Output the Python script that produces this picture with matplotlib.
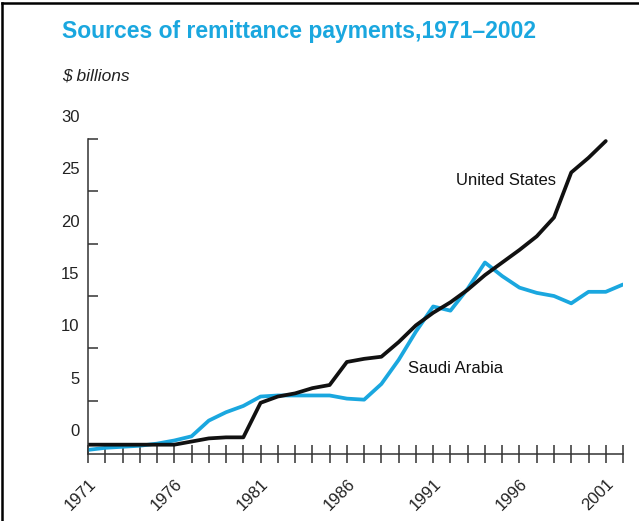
import numpy as np
import matplotlib.pyplot as plt
from matplotlib.lines import Line2D
from matplotlib.transforms import ScaledTranslation

plt.rcParams['font.family'] = ['Liberation Sans', 'DejaVu Sans']

years = np.arange(1971, 2003)

# $ billions
us = [-1.4, -1.4, -1.4, -1.4, -1.4, -1.4, -1.1, -0.8, -0.7, -0.7,
      2.6, 3.2, 3.5, 4.0, 4.3, 6.5, 6.8, 7.0, 8.4, 10.0,
      11.2, 12.2, 13.4, 14.8, 16.0, 17.2, 18.5, 20.3, 24.6, 26.0,
      27.6]
saudi = [-1.9, -1.7, -1.6, -1.5, -1.3, -1.0, -0.6, 0.9, 1.7, 2.3,
         3.2, 3.3, 3.3, 3.3, 3.3, 3.0, 2.9, 4.4, 6.7, 9.4,
         11.8, 11.4, 13.5, 16.0, 14.7, 13.6, 13.1, 12.8, 12.1, 13.2,
         13.2, 13.9]

label_years = [1971, 1976, 1981, 1986, 1991, 1996, 2001]
y_labels = [0, 5, 10, 15, 20, 25, 30]

cyan = '#1aa7df'

fig = plt.figure(figsize=(6.39, 5.21), dpi=100)
ax = fig.add_axes([0.1377, 0.1286, 0.975 - 0.1377, 0.7775 - 0.1286])

ax.plot(years, saudi, color=cyan, lw=2.7, solid_joinstyle='round', solid_capstyle='round')
ax.plot(years[:len(us)], us, color='#111111', lw=2.7, solid_joinstyle='round', solid_capstyle='round')

ax.set_xlim(1971, 2002)
ax.set_ylim(-2.29, 30)

for s in ['top', 'right']:
    ax.spines[s].set_visible(False)
for s in ['left', 'bottom']:
    ax.spines[s].set_color('#333333')
    ax.spines[s].set_linewidth(1.1)
ax.spines['left'].set_bounds(-2.29, 27.8)

# y axis: labels and tick marks sit apart in the original
ax.set_yticks(y_labels)
ax.set_yticklabels([str(v) for v in y_labels])
ax.set_yticks([2.8, 7.8, 12.8, 17.8, 22.8, 27.8], minor=True)
ax.tick_params(axis='y', which='major', length=0, pad=6, labelsize=12, labelcolor='#222222')
ax.tick_params(axis='y', which='minor', direction='in', length=7.5, width=1.1, color='#333333')

# x axis
ax.set_xticks(label_years)
ax.set_xticklabels([str(y) for y in label_years], rotation=45, ha='right')
ax.set_xticks(years, minor=True)
ax.tick_params(axis='x', which='both', direction='inout', length=12.5, width=1.1,
               color='#333333', labelsize=12, labelcolor='#222222', pad=10)
off = ScaledTranslation(11 / 100, 0, fig.dpi_scale_trans)
for lbl in ax.get_xticklabels():
    lbl.set_transform(lbl.get_transform() + off)

ax.text(1995.2, 23.8, 'United States', ha='center', va='center', fontsize=12, color='#111111')
ax.text(1992.3, 5.9, 'Saudi Arabia', ha='center', va='center', fontsize=12, color='#111111')

fig.text(0.097, 0.939, 'Sources of remittance payments,1971\u20132002', color=cyan,
         fontsize=16.5, fontweight='bold', ha='left', va='center')
fig.text(0.097, 0.854, '$ billions', fontsize=12.5, style='italic', ha='left', va='center',
         color='#222222')

# frame at top and left edge
fig.add_artist(Line2D([0.003, 0.003], [0, 0.995], transform=fig.transFigure, color='black', lw=1.8))
fig.add_artist(Line2D([0.003, 1], [0.995, 0.995], transform=fig.transFigure, color='black', lw=1.8))

fig.savefig('out.png', dpi=100)
